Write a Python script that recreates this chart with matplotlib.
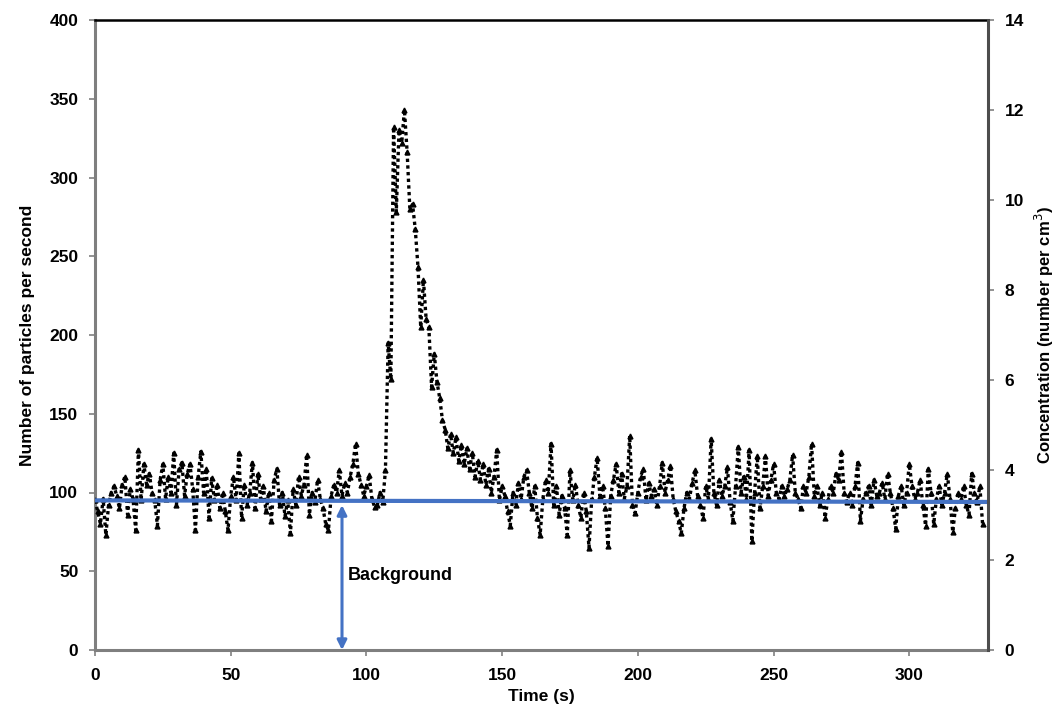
import matplotlib
matplotlib.use("Agg")
import matplotlib.pyplot as plt
import numpy as np

plt.rcParams['font.family'] = ['Liberation Sans', 'DejaVu Sans']

# data: particles per second, 1 s resolution starting at t = 0
counts = [
    95, 88, 80, 96, 73, 92, 100, 104, 98, 90,
    105, 110, 86, 102, 96, 76, 127, 95, 118, 105,
    112, 100, 95, 79, 108, 118, 96, 110, 100, 125,
    92, 115, 119, 98, 112, 118, 102, 76, 110, 126,
    100, 115, 84, 109, 95, 105, 90, 100, 88, 76,
    98, 110, 95, 125, 84, 105, 92, 100, 119, 90,
    112, 96, 104, 88, 100, 82, 108, 115, 92, 100,
    85, 95, 74, 102, 92, 110, 98, 105, 124, 86,
    100, 94, 108, 96, 90, 80, 76, 98, 105, 100,
    114, 98, 106, 100, 110, 118, 131, 112, 105, 98,
    104, 111, 96, 91, 92, 100, 94, 114, 195, 172,
    332, 278, 330, 322, 343, 316, 280, 283, 267, 243,
    205, 235, 210, 205, 167, 188, 170, 160, 146, 140,
    128, 137, 125, 135, 120, 130, 118, 128, 115, 125,
    110, 120, 108, 118, 105, 115, 100, 110, 127, 95,
    104, 98, 88, 79, 100, 92, 106, 96, 110, 114,
    100, 90, 104, 84, 73, 96, 108, 100, 131, 92,
    104, 86, 98, 90, 73, 114, 95, 105, 92, 84,
    100, 88, 65, 96, 110, 122, 98, 104, 90, 66,
    98, 108, 118, 100, 112, 96, 104, 136, 92, 87,
    100, 110, 115, 95, 106, 98, 102, 92, 104, 119,
    100, 108, 117, 96, 88, 82, 74, 90, 100, 96,
    106, 114, 98, 92, 84, 104, 96, 134, 100, 92,
    108, 98, 104, 116, 94, 82, 104, 129, 100, 110,
    96, 127, 69, 100, 123, 90, 104, 123, 98, 108,
    118, 100, 96, 104, 98, 102, 108, 124, 100, 96,
    90, 104, 100, 110, 131, 98, 104, 92, 100, 84,
    96, 104, 100, 112, 108, 126, 100, 94, 100, 92,
    104, 119, 82, 96, 100, 104, 92, 108, 98, 100,
    106, 96, 112, 100, 90, 77, 98, 104, 92, 100,
    118, 104, 96, 100, 108, 92, 79, 115, 100, 80,
    96, 104, 92, 100, 112, 96, 75, 90, 100, 96,
    104, 92, 86, 112, 100, 94, 104, 80,
]
time_s = np.arange(len(counts))

background_level = 95
background_x = 91
background_label = "Background"

x_ticks = [0, 50, 100, 150, 200, 250, 300]
y_ticks = [0, 50, 100, 150, 200, 250, 300, 350, 400]
y2_ticks = [0, 2, 4, 6, 8, 10, 12, 14]

fig = plt.figure(figsize=(10.57, 7.18), dpi=100)
ax = fig.add_axes([95/1057, 1 - 650/718, (988 - 95)/1057, (650 - 20)/718])

ax.plot(time_s, counts, linestyle=(0, (1, 1)), color='black', linewidth=2.4,
        marker='^', markersize=3.5, zorder=3)

blue = '#4472C4'
ax.plot([0, 329], [background_level, background_level - 1], color=blue, linewidth=3, zorder=4)
ax.annotate('', xy=(background_x, 0), xytext=(background_x, background_level - 3),
            arrowprops=dict(arrowstyle='<|-|>', color=blue, lw=2.2,
                            mutation_scale=14, shrinkA=0, shrinkB=0), zorder=4)
ax.text(background_x + 2, 47, background_label, fontsize=13, fontweight='bold',
        va='center', ha='left')

ax.set_xlim(0, 329)
ax.set_ylim(0, 400)
ax.set_xticks(x_ticks)
ax.set_yticks(y_ticks)
ax.tick_params(axis='both', labelsize=12.5, direction='out', length=4, color='#808080', width=1.2)
ax.tick_params(axis='x', pad=9)
ax.tick_params(axis='y', pad=8)
for lab in ax.get_xticklabels() + ax.get_yticklabels():
    lab.set_fontweight('bold')
ax.set_xlabel('Time (s)', fontsize=12.5, fontweight='bold', labelpad=4)
ax.set_ylabel('Number of particles per second', fontsize=12.5, fontweight='bold', labelpad=10)

for side in ['left', 'bottom']:
    ax.spines[side].set_color('#7f7f7f')
    ax.spines[side].set_linewidth(2.2)
for side in ['top', 'right']:
    ax.spines[side].set_color('black')
    ax.spines[side].set_linewidth(1.8)

ax2 = ax.twinx()
ax2.set_ylim(0, 14)
ax2.set_yticks(y2_ticks)
ax2.tick_params(axis='y', labelsize=12.5, direction='out', length=4, color='#808080', width=1.2, pad=8)
for lab in ax2.get_yticklabels():
    lab.set_fontweight('bold')
ax2.set_ylabel('Concentration (number per cm$^{3}$)', fontsize=12, fontweight='bold', labelpad=6)
ax2.spines['right'].set_color('#4d4d4d')
ax2.spines['right'].set_linewidth(2.2)
for side in ['left', 'bottom', 'top']:
    ax2.spines[side].set_visible(False)

fig.savefig('out.png', dpi=100)
